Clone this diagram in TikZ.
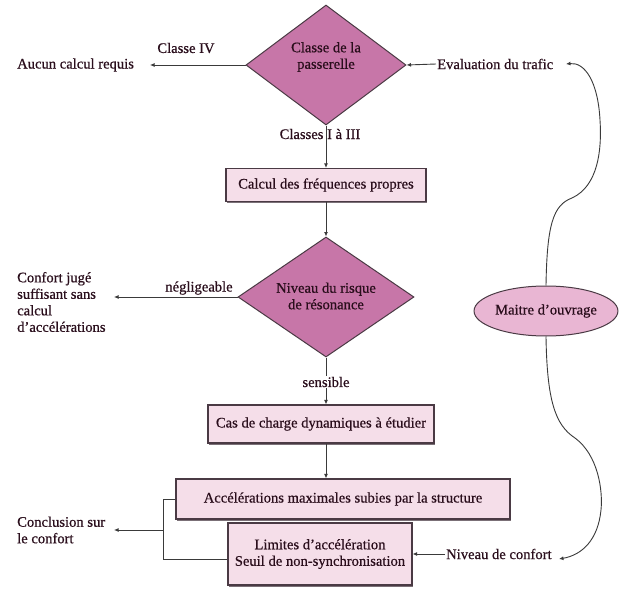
\documentclass[tikz,border=0pt]{standalone}
\usepackage{fontspec}
\setmainfont{Liberation Serif}[FakeBold=0.6]
\usetikzlibrary{shapes.geometric,arrows.meta,shadows}
\definecolor{diafill}{HTML}{C776A8}
\definecolor{boxfill}{HTML}{F5DEE9}
\definecolor{ellfill}{HTML}{E9B6D3}
\definecolor{edgec}{HTML}{4A3A44}
\definecolor{linec}{HTML}{3A3A3A}
\definecolor{txtc}{HTML}{2A0E1C}
\begin{document}
\begin{tikzpicture}[x=1pt,y=-1pt,
  every node/.style={font=\fontsize{14.6}{16.5}\selectfont, text=txtc},
  dia/.style={diamond, draw=edgec, line width=1pt, fill=diafill, inner sep=0pt, aspect=1.38},
  pbox/.style={draw=edgec, line width=1.2pt, fill=boxfill, inner sep=0pt,
     drop shadow={shadow xshift=1.2pt, shadow yshift=-1.6pt, fill=edgec!85, opacity=0.85}},
  lbl/.style={inner sep=1pt},
  conn/.style={draw=linec, line width=0.9pt},
  arr/.style={conn, -{Latex[length=4.5pt,width=4pt]}}]
\useasboundingbox (0,0) rectangle (625,589);
\fill[white] (0,0) rectangle (625,589);

% diamonds
\node[dia, minimum width=160pt, minimum height=120pt] (d1) at (326,65) {};
\node[align=center] at (326,57) {Classe de la\\passerelle};
\node[dia, minimum width=176pt, minimum height=120pt] (d2) at (326,297) {};
\node[align=center] at (326,296) {Niveau du risque\\de résonance};

% boxes
\node[pbox, minimum width=200pt, minimum height=33pt] (b1) at (326,185) {Calcul des fréquences propres};
\node[pbox, minimum width=226pt, minimum height=38pt] (b2) at (321,424) {Cas de charge dynamiques à étudier};
\node[pbox, minimum width=334pt, minimum height=40pt] (b3) at (343,499) {Accélérations maximales subies par la structure};
\node[pbox, minimum width=184pt, minimum height=62pt, align=center] (b4) at (320,554) {Limites d’accélération\\Seuil de non-synchronisation};

% ellipse
\node[ellipse, draw=edgec, line width=1pt, fill=ellfill, minimum width=112pt, minimum height=50pt, inner sep=0pt] (mo) at (546,311) {Maitre d’ouvrage};

% side texts
\node[lbl, anchor=west] (acr) at (16,65) {Aucun calcul requis};
\node[lbl, anchor=west] (evt) at (436,64) {Evaluation du trafic};
\node[lbl, anchor=west, align=left] (cjs) at (16,302) {Confort jugé\\suffisant sans\\calcul\\d’accélérations};
\node[lbl, anchor=west, align=left] (ccf) at (16,530) {Conclusion sur\\le confort};
\node[lbl, anchor=west] (ndc) at (445,554) {Niveau de confort};

% helper coordinates
\coordinate (acrE) at (150,65);
\coordinate (cjsE) at (114,297);
\coordinate (ccfE) at (114,530);
\coordinate (brk) at (163,530);
\coordinate (evtE) at (566,64);
\coordinate (ndcE) at (559,559);

% connectors
\draw[arr] (d1.west) -- (acrE);
\node[lbl] at (186,48) {Classe IV};
\draw[arr] (evt.west) -- (d1.east);
\draw[arr] (d1.south) -- (b1.north);
\node[lbl] at (320,134) {Classes I à III};
\draw[arr] (b1.south) -- (d2.north);
\draw[arr] (d2.west) -- (cjsE);
\node[lbl] at (199,288) {négligeable};
\draw[arr] (d2.south) -- (d2.south |- b2.north);
\node[fill=white, inner sep=1pt] at (326,382) {sensible};
\draw[arr] (d2.south |- b2.south) -- (d2.south |- b3.north);
\draw[conn] (b3.west) -- (163,499) -- (163,559) -- (b4.west |- 0,559);
\draw[arr] (brk) -- (ccfE);
\draw[arr] (ndc.west) -- (b4.east);

% curves from Maitre d'ouvrage
\draw[arr] (mo.north) .. controls (547,225) and (553,205) .. (572,198)
  .. controls (598,186) and (602,150) .. (600,120)
  .. controls (598,82) and (585,62) .. (evtE);
\draw[arr] (mo.south) .. controls (547,400) and (555,425) .. (575,438)
  .. controls (598,455) and (603,490) .. (601,510)
  .. controls (598,540) and (582,555) .. (ndcE);
\end{tikzpicture}
\end{document}
